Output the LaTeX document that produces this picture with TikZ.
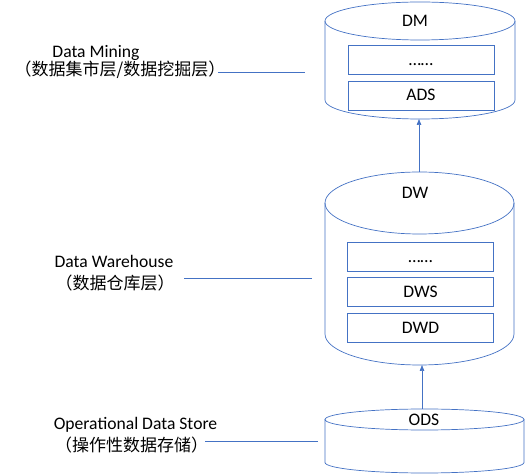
\documentclass[tikz,border=0pt]{standalone}
\usepackage{fontspec}
\setmainfont{Carlito}
\newfontfamily\cjk{Noto Sans CJK SC}
\usetikzlibrary{positioning,arrows.meta}

\definecolor{layerblue}{RGB}{68,114,196}
\tikzset{
  cylline/.style={draw=layerblue, line width=0.7pt},
  guide/.style={draw=layerblue, line width=0.7pt},
  layerbox/.style={draw=layerblue, line width=0.7pt, minimum width=146pt,
    minimum height=29pt, inner sep=0pt, text height=11pt, text depth=0pt,
    font=\fontsize{17.6}{20}\selectfont},
  entitle/.style={anchor=base, inner sep=0pt, font=\fontsize{17.6}{20}\selectfont},
  cntitle/.style={anchor=base, inner sep=0pt, font=\cjk\fontsize{17}{20}\selectfont},
}

\begin{document}
\begin{tikzpicture}[x=1pt, y=1pt, node distance=6pt,
    >={Triangle[length=6pt,width=4.5pt]}]
  \useasboundingbox (0,0) rectangle (525,474);

  % DM cylinder
  \draw[cylline] (420,453) ellipse [x radius=95, y radius=19];
  \draw[cylline] (325,453) -- (325,374)
    arc [start angle=180, end angle=360, x radius=95, y radius=19] -- (515,453);
  \node (dm) [entitle] at (415,447) {DM};
  \node (ads)  [layerbox] at (421,378.5) {ADS};
  \node (dmdots) [layerbox, above=of ads] {……};
  \coordinate (dm-bot) at (419,355);

  % DW cylinder
  \draw[cylline] (419.5,271) ellipse [x radius=94.5, y radius=31];
  \draw[cylline] (325,271) -- (325,140)
    arc [start angle=180, end angle=360, x radius=94.5, y radius=31] -- (514,271);
  \node (dw) [entitle] at (415,275) {DW};
  \node (dwd)  [layerbox] at (420.5,146) {DWD};
  \node (dws)  [layerbox, above=of dwd] {DWS};
  \node (dwdots) [layerbox, above=of dws] {……};
  \coordinate (dw-top) at (419,302);
  \coordinate (dw-bot) at (422,109);

  % ODS cylinder
  \draw[cylline] (424.5,54.5) ellipse [x radius=99.5, y radius=10.5];
  \draw[cylline] (325,54.5) -- (325,11.5)
    arc [start angle=180, end angle=360, x radius=99.5, y radius=10.5] -- (524,54.5);
  \node (ods) [entitle] at (424,48.5) {ODS};
  \coordinate (ods-top) at (422,65);

  \path[->]
    (dw-top)  edge[guide] (dm-bot)
    (ods-top) edge[guide] (dw-bot);

  % layer names
  \node (dm-en) [entitle] at (96,416.5) {Data Mining};
  \node (dm-cn) [cntitle] at (120,398) {（数据集市层/数据挖掘层）};
  \node (dw-en) [entitle] at (114,206) {Data Warehouse};
  \node (dw-cn) [cntitle] at (115,184.5) {（数据仓库层）};
  \node (ods-en) [entitle] at (135.5,44.7) {Operational Data Store};
  \node (ods-cn) [cntitle] at (131.5,22) {（操作性数据存储）};

  \coordinate (dm-a) at (218,402);  \coordinate (dm-b) at (305,402);
  \coordinate (dw-a) at (184,196);  \coordinate (dw-b) at (312,196);
  \coordinate (ods-a) at (205,33);  \coordinate (ods-b) at (318,33);
  \draw[guide] (dm-a) -- (dm-b);
  \draw[guide] (dw-a) -- (dw-b);
  \draw[guide] (ods-a) -- (ods-b);
\end{tikzpicture}
\end{document}
